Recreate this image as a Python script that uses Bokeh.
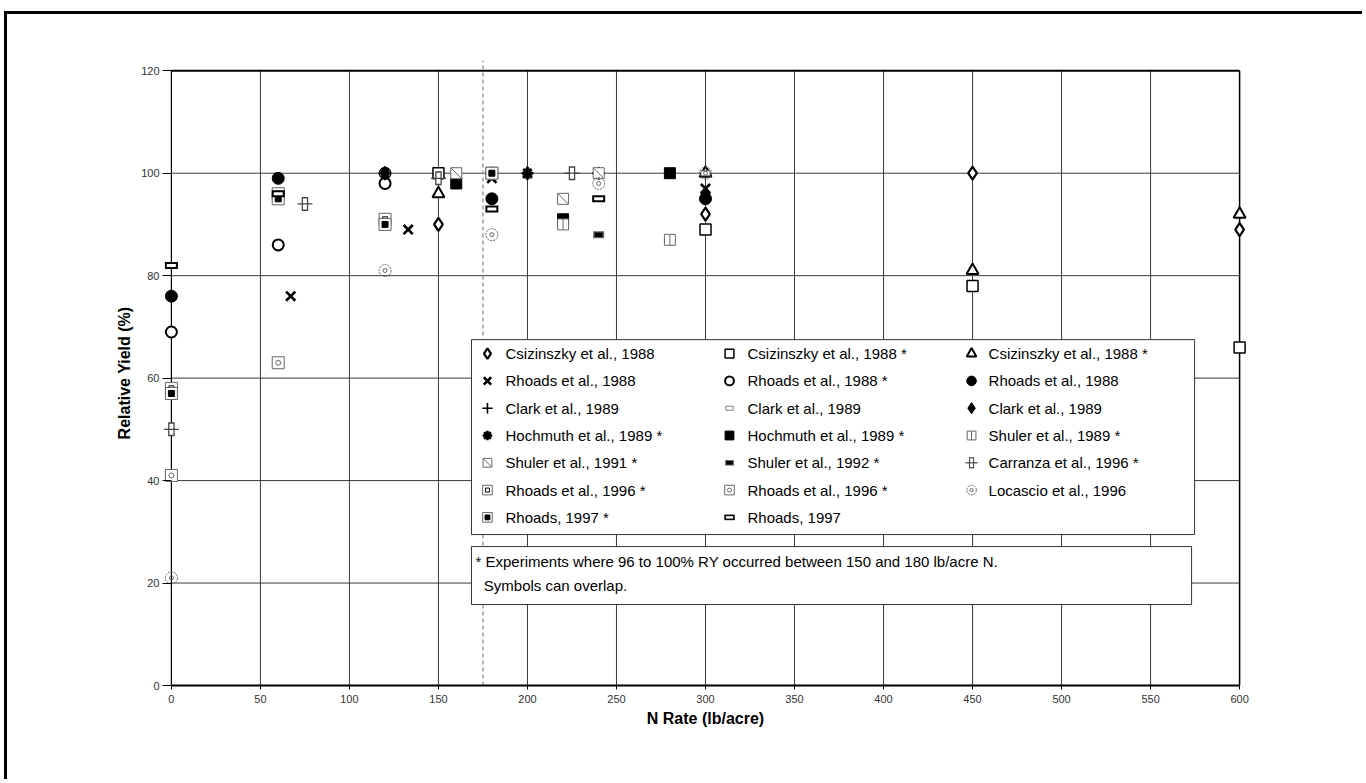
import math
from bokeh.plotting import figure
from bokeh.models import BoxAnnotation, Label, FixedTicker
from bokeh.embed import file_html
from bokeh.resources import INLINE

# ---------------- data ----------------
x_ticks = list(range(0, 601, 50))
y_ticks = list(range(0, 121, 20))
ref_rate = [175]   # dashed reference line (lb/acre)

csiz88_diamond_x = [150, 300, 450, 600]
csiz88_diamond_y = [90, 92, 100, 89]
csiz88s_square_x = [150, 300, 450, 600]
csiz88s_square_y = [100, 89, 78, 66]
csiz88s_tri_x = [150, 300, 450, 600]
csiz88s_tri_y = [96, 100, 81, 92]
rhoads88_x_x = [67, 133, 180, 300]
rhoads88_x_y = [76, 89, 99, 97]
rhoads88s_circ_x = [0, 60, 120]
rhoads88s_circ_y = [69, 86, 98]
rhoads88_dot_x = [0, 60, 120, 180, 300]
rhoads88_dot_y = [76, 99, 100, 95, 95]
clark89_plus_x = [180, 240]
clark89_plus_y = [100, 100]
clark89_ell_x = [120, 200, 300]
clark89_ell_y = [100, 99.5, 100]
clark89_dia_x = [120, 200, 300]
clark89_dia_y = [100, 100, 96]
hoch89_ast_x = [180, 200, 240]
hoch89_ast_y = [100, 100, 100]
hoch89_sq_x = [160, 220, 280]
hoch89_sq_y = [98, 91, 100]
shuler89_x = [220, 280]
shuler89_y = [90, 87]
shuler91_x = [160, 220, 240]
shuler91_y = [100, 95, 100]
shuler92_x = [240]
shuler92_y = [88]
carranza96_x = [0, 75, 150, 225]
carranza96_y = [50, 94, 99, 100]
rhoads96a_x = [0, 60, 120, 180]
rhoads96a_y = [58, 96, 91, 100]
rhoads96b_x = [0, 60]
rhoads96b_y = [41, 63]
locascio96_x = [0, 120, 180, 240, 300]
locascio96_y = [21, 81, 88, 98, 100]
rhoads97s_x = [0, 60, 120, 180]
rhoads97s_y = [57, 95, 90, 100]
rhoads97_x = [0, 60, 180, 240]
rhoads97_y = [82, 96, 93, 95]

legend_labels = [
    "Csizinszky et al., 1988", "Csizinszky et al., 1988 *", "Csizinszky et al., 1988 *",
    "Rhoads et al., 1988", "Rhoads et al., 1988 *", "Rhoads et al., 1988",
    "Clark et al., 1989", "Clark et al., 1989", "Clark et al., 1989",
    "Hochmuth et al., 1989 *", "Hochmuth et al., 1989 *", "Shuler et al., 1989 *",
    "Shuler et al., 1991 *", "Shuler et al., 1992 *", "Carranza et al., 1996 *",
    "Rhoads et al., 1996 *", "Rhoads et al., 1996 *", "Locascio et al., 1996",
    "Rhoads, 1997 *", "Rhoads, 1997",
]
note_line1 = "* Experiments where 96 to 100% RY occurred between 150 and 180 lb/acre N."
note_line2 = "\u00a0\u00a0Symbols can overlap."
FONT = "Liberation Sans"

# ---------------- layout (page pixels) ----------------
W, H = 1358, 768
CANVAS_L, CANVAS_T = 7, 14
AX_L, AX_R, AX_T, AX_B = 171, 1239, 70, 685        # pixels of x=0, x=600, y=120, y=0
XMIN, XMAX, YMIN, YMAX = x_ticks[0], x_ticks[-1], y_ticks[0], y_ticks[-1]
PXX = (AX_R - AX_L) / (XMAX - XMIN)
PXY = (AX_B - AX_T) / (YMAX - YMIN)
XPAD = 5            # data units of room so that edge symbols are not cut
YTOP = 122          # room above the chart area for the dashed line


def dx(px):
    return XMIN + (px - AX_L) / PXX


def dy(py):
    return YMAX - (py - AX_T) / PXY


frame_l = AX_L - XPAD * PXX
frame_r = AX_R + XPAD * PXX
frame_t = AX_B - (YTOP - YMIN) * PXY

p = figure(width=W, height=H, x_range=(XMIN - XPAD, XMAX + XPAD), y_range=(YMIN, YTOP),
           output_backend="svg", toolbar_location=None)
p.styles = {"margin-left": f"{CANVAS_L}px", "margin-top": f"{CANVAS_T}px",
            "box-shadow": "-3px -3px 0px 0px black"}
p.min_border_left = int(round(frame_l - CANVAS_L))
p.min_border_top = int(round(frame_t - CANVAS_T))
p.min_border_right = int(round(W - (frame_r - CANVAS_L)))
p.min_border_bottom = int(round(H - (AX_B - CANVAS_T)))
p.background_fill_color = "white"
p.border_fill_color = "white"
p.outline_line_color = None
p.xgrid.visible = False
p.ygrid.visible = False

GRID = "#3a3a3a"
p.segment(x0=x_ticks[1:-1], x1=x_ticks[1:-1], y0=[YMIN] * (len(x_ticks) - 2),
          y1=[YMAX] * (len(x_ticks) - 2), line_color=GRID, line_width=1, level="underlay")
p.segment(x0=[XMIN] * (len(y_ticks) - 2), x1=[XMAX] * (len(y_ticks) - 2),
          y0=y_ticks[1:-1], y1=y_ticks[1:-1], line_color=GRID, line_width=1, level="underlay")
# chart-area edges: top, right and left (value axis line)
p.segment(x0=[XMIN], x1=[XMAX], y0=[YMAX], y1=[YMAX], line_color="black", line_width=2, level="underlay")
p.segment(x0=[XMAX], x1=[XMAX], y0=[YMIN], y1=[YMAX], line_color="black", line_width=1.5, level="underlay")
p.segment(x0=[XMIN], x1=[XMIN], y0=[YMIN], y1=[YMAX], line_color="black", line_width=1.2, level="underlay")
# dashed reference line (reaches a little above the chart area)
p.segment(x0=ref_rate, x1=ref_rate, y0=[YMIN], y1=[YTOP], line_color="#9a9a9a",
          line_dash="4 3", line_width=1.5, level="underlay")

p.xaxis.ticker = FixedTicker(ticks=x_ticks)
p.yaxis.ticker = FixedTicker(ticks=y_ticks)
p.xaxis.bounds = (XMIN, XMAX)
p.yaxis.bounds = (YMIN, YMAX)
for ax in (p.xaxis[0], p.yaxis[0]):
    ax.major_label_text_font = FONT
    ax.major_label_text_font_size = "11px"
    ax.major_label_text_color = "#333333"
    ax.minor_tick_line_color = None
    ax.axis_label_text_font = FONT
    ax.axis_label_text_font_size = "16px"
    ax.axis_label_text_font_style = "bold"
    ax.axis_label_text_color = "black"
p.xaxis.major_tick_in = 0
p.xaxis.major_tick_out = 4
p.xaxis.axis_line_color = "black"
p.xaxis.axis_line_width = 2
p.xaxis.axis_label = "N Rate (lb/acre)"
p.xaxis.axis_label_standoff = 4
p.xaxis.major_label_standoff = 5
# the value axis sits at the padded frame edge: its ticks reach in to x = 0
p.yaxis.axis_line_color = None
p.yaxis.major_tick_out = 0
p.yaxis.major_tick_in = int(round(XPAD * PXX))
p.yaxis.major_tick_line_color = "black"
p.yaxis.axis_label = "Relative Yield (%)"
p.yaxis.axis_label_standoff = 5
p.yaxis.major_label_standoff = 3

BLK = "black"
GRY = "#666666"
DGR = "#444444"


def sc(x, y, marker, size, fill=None, line=BLK, lw=1.0, angle=0.0, dash="solid", level="glyph"):
    r = p.scatter(x=x, y=y, marker=marker, size=size, fill_color=fill,
                  line_color=line, line_width=lw, angle=angle, line_dash=dash)
    r.level = level
    return r


def m_csiz_diamond(x, y, k=1.0, lv="glyph"):
    sc(x, y, "diamond", 13 * k, "white", BLK, 2.2, level=lv)

def m_csiz_square(x, y, k=1.0, lv="glyph"):
    sc(x, y, "square", 11 * k, "white", BLK, 1.5, level=lv)

def m_csiz_tri(x, y, k=1.0, lv="glyph"):
    sc(x, y, "triangle", 12 * k, "white", BLK, 2.0, level=lv)

def m_rhoads_x(x, y, k=1.0, lv="glyph"):
    sc(x, y, "x", 13 * k, None, BLK, 2.6, level=lv)

def m_rhoads_circ(x, y, k=1.0, lv="glyph"):
    sc(x, y, "circle", 11 * k, "white", BLK, 2.0, level=lv)

def m_rhoads_dot(x, y, k=1.0, lv="glyph"):
    sc(x, y, "circle", 12 * k, BLK, BLK, 1.0, level=lv)

def m_clark_plus(x, y, k=1.0, lv="glyph"):
    sc(x, y, "cross", 13 * k, None, BLK, 1.6, level=lv)

def m_clark_ell(x, y, k=1.0, lv="glyph"):
    sc(x, y, "dash", 10 * k, None, GRY, 6.0 * k, level=lv)
    sc(x, y, "dash", 8 * k, None, "white", 4.0 * k, level=lv)

def m_clark_dia(x, y, k=1.0, lv="glyph"):
    sc(x, y, "diamond", 14 * k, BLK, BLK, 1.0, level=lv)

def m_hoch_ast(x, y, k=1.0, lv="glyph"):
    sc(x, y, "asterisk", 12 * k, None, BLK, 2.6, level=lv)

def m_hoch_sq(x, y, k=1.0, lv="glyph"):
    sc(x, y, "square", 11 * k, BLK, BLK, 1.0, level=lv)

def m_shuler89(x, y, k=1.0, lv="glyph"):
    sc(x, y, "square", 11 * k, "white", GRY, 1.0, level=lv)
    sc(x, y, "dash", 11 * k, None, GRY, 1.0, angle=math.pi / 2, level=lv)

def m_shuler91(x, y, k=1.0, lv="glyph"):
    sc(x, y, "square", 11 * k, "white", GRY, 1.0, level=lv)
    sc(x, y, "dash", 14 * k, None, GRY, 1.0, angle=-math.pi / 4, level=lv)

def m_shuler92(x, y, k=1.0, lv="glyph"):
    sc(x, y, "dash", 11 * k, None, GRY, 7.0 * k, level=lv)
    sc(x, y, "dash", 8 * k, None, BLK, 4.5 * k, level=lv)

def m_carranza(x, y, k=1.0, lv="glyph"):
    sc(x, y, "dash", 15 * k, None, DGR, 1.2, level=lv)
    sc(x, y, "dash", 14 * k, None, DGR, 6.5 * k, angle=math.pi / 2, level=lv)
    sc(x, y, "dash", 11 * k, None, "white", 4.0 * k, angle=math.pi / 2, level=lv)
    sc(x, y, "dash", 5 * k, None, DGR, 1.2, level=lv)

def m_rhoads96a(x, y, k=1.0, lv="glyph"):
    sc(x, y, "square", 12 * k, "white", GRY, 1.0, level=lv)
    sc(x, y, "square", 5 * k, "white", BLK, 1.0, level=lv)

def m_rhoads96b(x, y, k=1.0, lv="glyph"):
    sc(x, y, "square", 12 * k, "white", GRY, 1.0, level=lv)
    sc(x, y, "circle", 5 * k, "white", GRY, 1.0, level=lv)

def m_locascio(x, y, k=1.0, lv="glyph"):
    sc(x, y, "circle", 12 * k, None, GRY, 1.0, dash="2 1", level=lv)
    sc(x, y, "circle", 4 * k, None, GRY, 1.0, level=lv)

def m_rhoads97s(x, y, k=1.0, lv="glyph"):
    sc(x, y, "square", 12 * k, "white", GRY, 1.0, level=lv)
    sc(x, y, "square", 6 * k, BLK, BLK, 1.0, level=lv)

def m_rhoads97(x, y, k=1.0, lv="glyph"):
    sc(x, y, "dash", 13 * k, None, BLK, 7.0 * k, level=lv)
    sc(x, y, "dash", 9 * k, None, "white", 3.0 * k, level=lv)


series = [
    (m_csiz_diamond, csiz88_diamond_x, csiz88_diamond_y),
    (m_csiz_square, csiz88s_square_x, csiz88s_square_y),
    (m_csiz_tri, csiz88s_tri_x, csiz88s_tri_y),
    (m_rhoads_x, rhoads88_x_x, rhoads88_x_y),
    (m_rhoads_circ, rhoads88s_circ_x, rhoads88s_circ_y),
    (m_rhoads_dot, rhoads88_dot_x, rhoads88_dot_y),
    (m_clark_plus, clark89_plus_x, clark89_plus_y),
    (m_clark_ell, clark89_ell_x, clark89_ell_y),
    (m_clark_dia, clark89_dia_x, clark89_dia_y),
    (m_hoch_ast, hoch89_ast_x, hoch89_ast_y),
    (m_hoch_sq, hoch89_sq_x, hoch89_sq_y),
    (m_shuler89, shuler89_x, shuler89_y),
    (m_shuler91, shuler91_x, shuler91_y),
    (m_shuler92, shuler92_x, shuler92_y),
    (m_carranza, carranza96_x, carranza96_y),
    (m_rhoads96a, rhoads96a_x, rhoads96a_y),
    (m_rhoads96b, rhoads96b_x, rhoads96b_y),
    (m_locascio, locascio96_x, locascio96_y),
    (m_rhoads97s, rhoads97s_x, rhoads97s_y),
    (m_rhoads97, rhoads97_x, rhoads97_y),
]

for painter, xs, ys in series:
    painter(xs, ys)

# ---------------- legend (drawn by hand, 3 columns) ----------------
LEG_L, LEG_R, LEG_T, LEG_B = 471, 1194, 339, 534
SYM_X = [487, 729, 971]
TXT_X = [505, 747, 988]
ROW_Y0, ROW_DY = 353, 27.3

p.add_layout(BoxAnnotation(left=dx(LEG_L), right=dx(LEG_R), bottom=dy(LEG_B), top=dy(LEG_T),
                           fill_color="white", fill_alpha=1.0,
                           line_color="#333333", line_width=1, line_alpha=1.0))

for i, ((painter, _, _), lab) in enumerate(zip(series, legend_labels)):
    row, col = divmod(i, 3)
    py = ROW_Y0 + row * ROW_DY
    painter([dx(SYM_X[col])], [dy(py)], 0.8, "overlay")
    p.add_layout(Label(x=dx(TXT_X[col]), y=dy(py), text=lab, text_font=FONT,
                       text_font_size="15px", text_baseline="middle",
                       text_align="left", text_color="black"))

# ---------------- note ----------------
NOTE_L, NOTE_R, NOTE_T, NOTE_B = 471, 1191, 546, 604
p.add_layout(BoxAnnotation(left=dx(NOTE_L), right=dx(NOTE_R), bottom=dy(NOTE_B), top=dy(NOTE_T),
                           fill_color="white", fill_alpha=1.0,
                           line_color="#333333", line_width=1, line_alpha=1.0))
p.add_layout(Label(x=dx(475), y=dy(561), text=note_line1, text_font=FONT,
                   text_font_size="15px", text_baseline="middle", text_align="left",
                   text_color="black"))
p.add_layout(Label(x=dx(475), y=dy(585), text=note_line2, text_font=FONT,
                   text_font_size="15px", text_baseline="middle", text_align="left",
                   text_color="black"))

open("out.html", "w").write(file_html(p, INLINE))
